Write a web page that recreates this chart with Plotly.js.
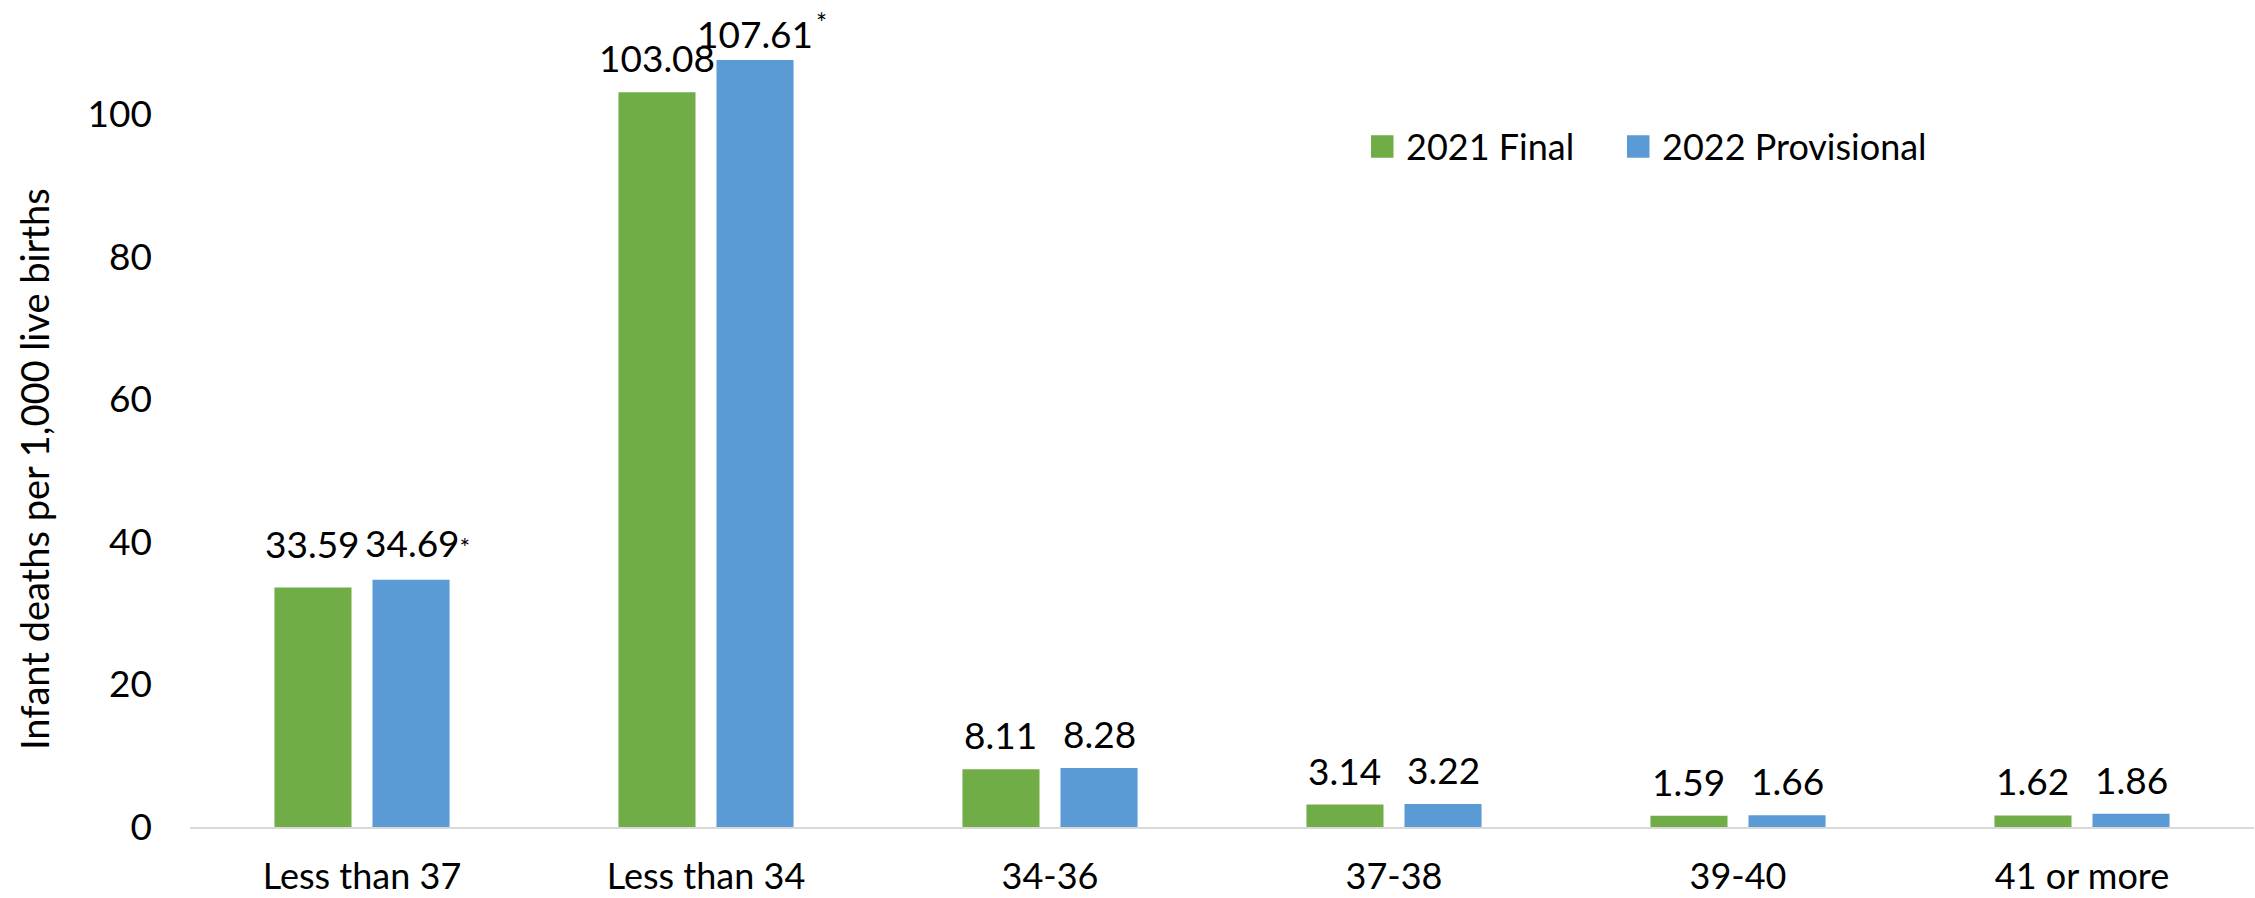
<!DOCTYPE html>
<html>
<head>
<meta charset="utf-8">
<script src="https://cdn.plot.ly/plotly-3.0.1.min.js"></script>
<style>
  html, body { margin: 0; padding: 0; background: #ffffff; }
  #chart { width: 2255px; height: 898px; }
</style>
</head>
<body>
<div id="chart"></div>
<script>
// Infant mortality by gestational age (weeks), 2021 final vs 2022 provisional
const categories = ['Less than 37', 'Less than 34', '34-36', '37-38', '39-40', '41 or more'];
const final2021 = [33.59, 103.08, 8.11, 3.14, 1.59, 1.62];
const provisional2022 = [34.69, 107.61, 8.28, 3.22, 1.66, 1.86];
const seriesNames = ['2021 Final', '2022 Provisional'];
const seriesColors = ['#70AD47', '#5B9BD5'];
const yTickValues = [0, 20, 40, 60, 80, 100];
const significance2022 = ['*', '*', '', '', '', ''];
const yTitle = 'Infant deaths per 1,000 live births';

const FONT = 'Lato, "Open Sans", sans-serif';
const W = 2255, H = 898;
const margin = { l: 190, r: 1, t: 43, b: 71 };
const bargap = 0.43;
const bargroupgap = 0.214;
const plotW = W - margin.l - margin.r;
const plotH = H - margin.t - margin.b;

const seriesValues = [final2021, provisional2022];

const traces = seriesValues.map((vals, s) => ({
  type: 'bar',
  name: seriesNames[s],
  x: categories,
  y: vals,
  marker: { color: seriesColors[s], line: { width: 0 } },
  showlegend: false,
  hoverinfo: 'x+y+name'
}));

// horizontal offset of each bar from its category centre
const catPx = plotW / categories.length;
const barOffset = catPx * (1 - bargap) / 4;

// hand-placed nudges for a few value labels (pixels, upward)
const labelNudge = {
  '0|0': 10,
  '1|0': 3,
  '1|1': -8
};

const annotations = [];
seriesValues.forEach((vals, s) => {
  vals.forEach((v, i) => {
    let txt = v.toFixed(2);
    let xs = (s === 0 ? -barOffset : barOffset);
    const mark = s === 1 ? significance2022[i] : '';
    if (mark && i === 0) {
      txt += '<span style="font-size:25px">' + mark + '</span>';
      xs += 6;
    }
    annotations.push({
      x: categories[i], y: v, xref: 'x', yref: 'y',
      xshift: xs, yshift: 10 + (labelNudge[s + '|' + i] || 0),
      xanchor: 'center', yanchor: 'bottom',
      text: txt, showarrow: false,
      font: { family: FONT, size: 37, color: '#000000' }
    });
    if (mark && i !== 0) {
      // raised marker set apart to the right of the label
      annotations.push({
        x: categories[i], y: v, xref: 'x', yref: 'y',
        xshift: barOffset + 66, yshift: 37,
        xanchor: 'center', yanchor: 'middle',
        text: mark, showarrow: false,
        font: { family: FONT, size: 26, color: '#000000' }
      });
    }
  });
});

// axis title
annotations.push({
  xref: 'paper', yref: 'paper',
  x: (34 - margin.l) / plotW, y: (H - margin.b - 469) / plotH,
  xanchor: 'center', yanchor: 'middle',
  textangle: -90, showarrow: false,
  text: yTitle,
  font: { family: FONT, size: 38, color: '#000000' }
});

// legend: coloured squares with series names
const legendItemsPx = [1371, 1627];
const legendCy = 146.5;
const sq = 22.5;
const shapes = [];
seriesNames.forEach((name, s) => {
  const x0 = legendItemsPx[s];
  shapes.push({
    type: 'rect', xref: 'paper', yref: 'paper',
    x0: (x0 - margin.l) / plotW, x1: (x0 + sq - margin.l) / plotW,
    y0: (H - margin.b - (legendCy + sq / 2)) / plotH,
    y1: (H - margin.b - (legendCy - sq / 2)) / plotH,
    fillcolor: seriesColors[s], line: { width: 0 }
  });
  annotations.push({
    xref: 'paper', yref: 'paper',
    x: (x0 + sq + 10 - margin.l) / plotW, y: (H - margin.b - legendCy) / plotH,
    xanchor: 'left', yanchor: 'middle', showarrow: false,
    text: name,
    font: { family: FONT, size: 36, color: '#000000' }
  });
});

const layout = {
  width: W, height: H,
  margin: margin,
  paper_bgcolor: '#ffffff', plot_bgcolor: '#ffffff',
  barmode: 'group',
  bargap: bargap,
  bargroupgap: bargroupgap,
  showlegend: false,
  font: { family: FONT, color: '#000000' },
  xaxis: {
    type: 'category',
    range: [-0.5, categories.length - 0.5],
    showline: true, linecolor: '#D9D9D9', linewidth: 2,
    ticks: '', showgrid: false, zeroline: false,
    tickfont: { family: FONT, size: 36, color: '#000000' },
    ticklabelstandoff: 17,
    fixedrange: true
  },
  yaxis: {
    range: [0, 110],
    tickvals: yTickValues,
    ticktext: yTickValues.map(String),
    showline: false, showgrid: false, zeroline: false,
    ticks: '',
    tickfont: { family: FONT, size: 37, color: '#000000' },
    ticklabelstandoff: 37,
    fixedrange: true
  },
  annotations: annotations,
  shapes: shapes
};

Plotly.newPlot('chart', traces, layout, { displayModeBar: false, staticPlot: true });
</script>
</body>
</html>
